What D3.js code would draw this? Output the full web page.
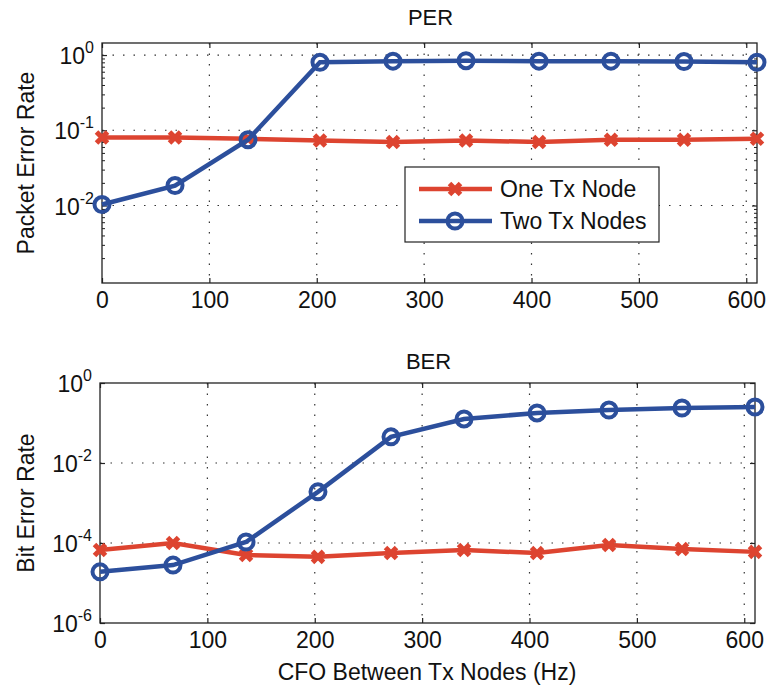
<!DOCTYPE html>
<html>
<head>
<meta charset="utf-8">
<script src="https://cdn.jsdelivr.net/npm/d3@7"></script>
<style>
    body { margin: 0; background: #fff; }
    svg text { font-family: "Liberation Sans", Arial, Helvetica, sans-serif; fill: #111; }
</style>
</head>
<body>
<div id="chart-div"></div>
<script>
//---------------------------------//
// Data                            //
//---------------------------------//

var cfoHz = [0, 68, 136, 203, 271, 339, 407, 474, 542, 610];

var perOneTx = [0.080, 0.080, 0.077, 0.073, 0.070, 0.073, 0.070, 0.075, 0.075, 0.077];
var perTwoTx = [0.0103, 0.0184, 0.075, 0.80, 0.83, 0.84, 0.83, 0.83, 0.82, 0.80];

var berOneTx = [6.7e-5, 1.0e-4, 5.0e-5, 4.5e-5, 5.6e-5, 6.7e-5, 5.6e-5, 8.9e-5, 7.1e-5, 6.0e-5];
var berTwoTx = [1.9e-5, 2.8e-5, 1.06e-4, 1.9e-3, 4.5e-2, 0.126, 0.178, 0.211, 0.237, 0.251];

var xTicks = [0, 100, 200, 300, 400, 500, 600];
var perTicks = [1e-2, 1e-1, 1e0];
var berTicks = [1e-6, 1e-4, 1e-2, 1e0];
var seriesNames = ['One Tx Node', 'Two Tx Nodes'];

//---------------------------------//
// Chart Object                    //
//---------------------------------//

window.Chart = window.Chart || {};

Chart.init = function() {
    Chart.red = '#dd4430';
    Chart.blue = '#2c4f9c';
    Chart.font = 23;

    Chart.svg = d3.select('#chart-div')
                  .append('svg')
                   .attr('width', 767)
                   .attr('height', 687);

    // top panel: packet error rate
    Chart.drawPanel({
        left: 102, right: 757, top: 43, bottom: 283,
        yDomain: [Math.pow(10, -3.03), Math.pow(10, 0.16)],
        yTicks: perTicks,
        minor: true,
        title: 'PER', titleY: 25,
        yLabel: 'Packet Error Rate',
        one: perOneTx, two: perTwoTx
    });

    // bottom panel: bit error rate
    Chart.drawPanel({
        left: 100, right: 755, top: 383, bottom: 623,
        yDomain: [1e-6, 1],
        yTicks: berTicks,
        minor: false,
        title: 'BER', titleY: 369,
        yLabel: 'Bit Error Rate',
        one: berOneTx, two: berTwoTx
    });

    Chart.svg.append('text')
        .attr('x', 427).attr('y', 680)
        .attr('text-anchor', 'middle')
        .attr('font-size', Chart.font)
        .text('CFO Between Tx Nodes (Hz)');

    Chart.drawLegend(405, 167, 254, 75);
};

Chart.drawPanel = function(p) {
    var g = Chart.svg.append('g');

    var x = d3.scaleLinear().domain([0, 610]).range([p.left, p.right]);
    var y = d3.scaleLog().domain(p.yDomain).range([p.bottom, p.top]);
    var w = p.right - p.left, h = p.bottom - p.top;

    // dotted grid
    g.selectAll('.vgrid').data(xTicks.slice(1)).enter().append('line')
        .attr('x1', d => x(d)).attr('x2', d => x(d))
        .attr('y1', p.top).attr('y2', p.bottom)
        .attr('stroke', '#333').attr('stroke-width', 1.2)
        .attr('stroke-dasharray', '1.5,9');
    g.selectAll('.hgrid').data(p.yTicks.filter(d => y(d) > p.top + 1 && y(d) < p.bottom - 1)).enter().append('line')
        .attr('x1', p.left).attr('x2', p.right)
        .attr('y1', d => y(d)).attr('y2', d => y(d))
        .attr('stroke', '#333').attr('stroke-width', 1.2)
        .attr('stroke-dasharray', '1.5,9');

    // axes with inward ticks
    var axB = g.append('g').attr('transform', 'translate(0,' + p.bottom + ')')
        .call(d3.axisBottom(x).tickValues(xTicks).tickSize(-5).tickPadding(9).tickFormat(d3.format('d')));
    var axT = g.append('g').attr('transform', 'translate(0,' + p.top + ')')
        .call(d3.axisTop(x).tickValues(xTicks).tickSize(-5).tickFormat(''));
    var axL = g.append('g').attr('transform', 'translate(' + p.left + ',0)')
        .call(d3.axisLeft(y).tickValues(p.yTicks).tickSize(-5).tickFormat(''));
    var axR = g.append('g').attr('transform', 'translate(' + p.right + ',0)')
        .call(d3.axisRight(y).tickValues(p.yTicks).tickSize(-5).tickFormat(''));

    if (p.minor) {
        var minorTicks = [];
        [1e-3, 1e-2, 1e-1].forEach(function(dec) {
            for (var k = 2; k <= 9; k++) minorTicks.push(k * dec);
        });
        g.append('g').attr('transform', 'translate(' + p.left + ',0)')
            .call(d3.axisLeft(y).tickValues(minorTicks).tickSize(-3).tickFormat(''));
        g.append('g').attr('transform', 'translate(' + p.right + ',0)')
            .call(d3.axisRight(y).tickValues(minorTicks).tickSize(-3).tickFormat(''));
    }

    [axB, axT, axL, axR].forEach(function(ax) {
        ax.select('.domain').remove();
        ax.selectAll('line').attr('stroke', '#222').attr('stroke-width', 1.2);
    });
    g.selectAll('.domain').remove();
    g.selectAll('.tick line').attr('stroke', '#222');
    axB.selectAll('text')
        .attr('font-size', Chart.font)
        .attr('font-family', '"Liberation Sans", Arial, sans-serif')
        .attr('fill', '#111');

    // y tick labels as 10^n
    var lab = g.selectAll('.ylab').data(p.yTicks).enter().append('text')
        .attr('x', p.left - 8)
        .attr('y', d => y(d) + 9)
        .attr('text-anchor', 'end')
        .attr('font-size', Chart.font);
    lab.append('tspan').text('10');
    lab.append('tspan')
        .attr('dy', -11)
        .attr('font-size', 16)
        .text(d => Math.round(Math.log10(d)) === 0 ? '0' : '-' + Math.abs(Math.round(Math.log10(d))));

    // box
    g.append('rect')
        .attr('x', p.left).attr('y', p.top)
        .attr('width', w).attr('height', h)
        .attr('fill', 'none').attr('stroke', '#222').attr('stroke-width', 1.3);

    // series
    var line = d3.line().x(d => x(d[0])).y(d => y(d[1]));
    var oneData = cfoHz.map((c, i) => [c, p.one[i]]);
    var twoData = cfoHz.map((c, i) => [c, p.two[i]]);

    g.append('path').datum(oneData).attr('d', line)
        .attr('fill', 'none').attr('stroke', Chart.red).attr('stroke-width', 4.5);
    Chart.drawCrosses(g, oneData.map(d => [x(d[0]), y(d[1])]));

    g.append('path').datum(twoData).attr('d', line)
        .attr('fill', 'none').attr('stroke', Chart.blue).attr('stroke-width', 4.5);
    Chart.drawCircles(g, twoData.map(d => [x(d[0]), y(d[1])]));

    // title and y label
    g.append('text')
        .attr('x', (p.left + p.right) / 2 + 1).attr('y', p.titleY)
        .attr('text-anchor', 'middle')
        .attr('font-size', 22)
        .text(p.title);
    g.append('text')
        .attr('transform', 'translate(34,' + (p.top + p.bottom) / 2 + ') rotate(-90)')
        .attr('text-anchor', 'middle')
        .attr('font-size', Chart.font)
        .text(p.yLabel);
};

Chart.drawCrosses = function(g, pts) {
    var s = 5.5;
    g.selectAll(null).data(pts).enter().append('path')
        .attr('d', d => 'M' + (d[0] - s) + ',' + (d[1] - s) + 'L' + (d[0] + s) + ',' + (d[1] + s) +
                        'M' + (d[0] - s) + ',' + (d[1] + s) + 'L' + (d[0] + s) + ',' + (d[1] - s))
        .attr('stroke', Chart.red).attr('stroke-width', 5).attr('fill', 'none');
};

Chart.drawCircles = function(g, pts) {
    g.selectAll(null).data(pts).enter().append('circle')
        .attr('cx', d => d[0]).attr('cy', d => d[1])
        .attr('r', 7.5)
        .attr('fill', 'none')
        .attr('stroke', Chart.blue).attr('stroke-width', 4);
};

Chart.drawLegend = function(lx, ly, lw, lh) {
    var g = Chart.svg.append('g');
    g.append('rect')
        .attr('x', lx).attr('y', ly).attr('width', lw).attr('height', lh)
        .attr('fill', '#fff').attr('stroke', '#222').attr('stroke-width', 1.2);

    var rows = [ly + 22, ly + 54];
    var colors = [Chart.red, Chart.blue];
    seriesNames.forEach(function(name, i) {
        g.append('line')
            .attr('x1', lx + 14).attr('x2', lx + 87)
            .attr('y1', rows[i]).attr('y2', rows[i])
            .attr('stroke', colors[i]).attr('stroke-width', 4.5);
        if (i === 0) Chart.drawCrosses(g, [[lx + 50, rows[i]]]);
        else Chart.drawCircles(g, [[lx + 50, rows[i]]]);
        g.append('text')
            .attr('x', lx + 95).attr('y', rows[i] + 8)
            .attr('font-size', Chart.font)
            .text(name);
    });
};

document.addEventListener('DOMContentLoaded', Chart.init);
</script>
</body>
</html>
